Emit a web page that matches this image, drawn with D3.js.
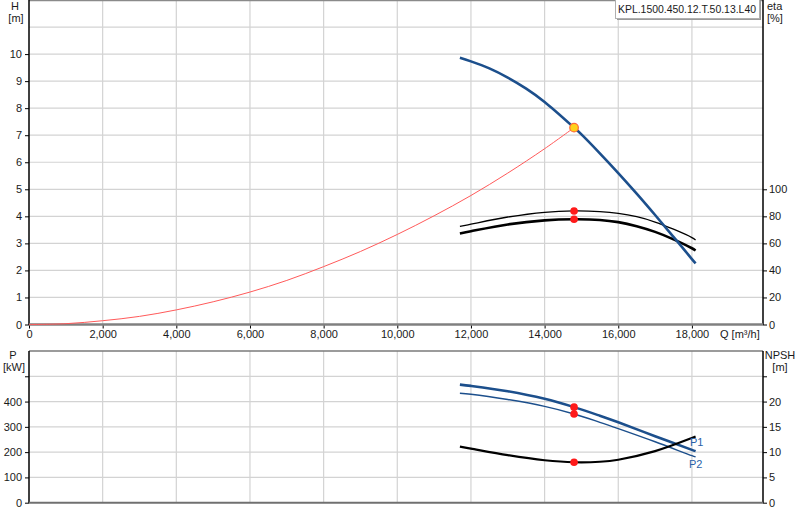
<!DOCTYPE html>
<html><head><meta charset="utf-8">
<script src="https://cdn.jsdelivr.net/npm/d3@7"></script>
<style>
html,body{margin:0;padding:0;background:#fff;}
svg{display:block;font-family:"Liberation Sans",Arial,sans-serif;}
</style></head>
<body><svg id="c" width="800" height="520"></svg>
<script>
// ---- data ----
const qTicks = [0,2000,4000,6000,8000,10000,12000,14000,16000,18000];
const hTicks = [0,1,2,3,4,5,6,7,8,9,10];
const etaTicks = [0,20,40,60,80,100];
const pTicks = [0,100,200,300,400];
const npshTicks = [0,5,10,15,20];

const hQ   = [11700,12000,12500,13000,13500,14000,14800,15000,15500,16000,16500,17000,17500,18000,18100];
const hVal = [9.86, 9.73, 9.47, 9.13, 8.72, 8.23, 7.28, 7.03, 6.33, 5.60, 4.84, 4.05, 3.24, 2.42, 2.26];

const sysQ = [0,1000,2000,3000,4000,5000,6000,7000,8000,9000,10000,11000,12000,13000,14000,14800];
const sysH = [0,0.03,0.14,0.30,0.54,0.84,1.20,1.63,2.14,2.70,3.33,4.02,4.77,5.60,6.50,7.28];

const etaQ = [11700,12000,13000,14000,14800,15500,16000,16500,17000,17500,18000,18100];
const eta1 = [72.5, 74.2, 79.5, 83.0, 84.0, 83.5, 82.2, 79.7, 75.8, 70.5, 64.3, 62.5];
const eta2 = [67.3, 69.0, 74.0, 77.0, 77.8, 77.3, 75.7, 72.7, 68.5, 63.0, 56.4, 54.7];

const pQ   = [11700,12000,13000,14000,14800,15500,16000,17000,18000,18100];
const p1   = [467, 462, 441, 411, 378, 344, 318, 263, 209, 204];
const p2   = [433, 429, 408, 381, 351, 318, 293, 241, 186, 181];
const npsh = [11.1, 10.7, 9.4, 8.4, 8.0, 8.1, 8.5, 10.2, 12.8, 13.1];

const dutyQ = 14800, dutyH = 7.28;
const dutyEta = [84.0, 77.8];
const dutyP = [378, 351];
const dutyNpsh = 8.0;

const title = "KPL.1500.450.12.T.50.13.L40";

// ---- layout ----
const L = 29, R = 763;
const svg = d3.select("#c");
const x = d3.scaleLinear().domain([0,19930]).range([L,R]);
const yH = d3.scaleLinear().domain([0,12]).range([324.5,0]);
const yE = d3.scaleLinear().domain([0,240]).range([324.5,0]);
const yP = d3.scaleLinear().domain([0,600]).range([502.7,351]);
const yN = d3.scaleLinear().domain([0,30]).range([502.7,351]);

const grid = "#d3d3d3";
const blue = "#1c4f8c";
const font = 11;

function gridLines(y0, y1, yScale, yVals){
  const g = svg.append("g");
  g.selectAll("line.v").data(qTicks.slice(1)).enter().append("line")
    .attr("x1",d=>x(d)).attr("x2",d=>x(d)).attr("y1",y0).attr("y2",y1)
    .attr("stroke",grid).attr("stroke-width",1.2);
  g.selectAll("line.h").data(yVals).enter().append("line")
    .attr("x1",L).attr("x2",R).attr("y1",d=>yScale(d)).attr("y2",d=>yScale(d))
    .attr("stroke",grid).attr("stroke-width",1.2);
}
gridLines(0, 324.5, yH, d3.range(1,12));
gridLines(351, 502.7, yP, [100,200,300,400,500]);

// frame lines
svg.append("line").attr("x1",L).attr("x2",R).attr("y1",0.5).attr("y2",0.5).attr("stroke","#8a8a8a").attr("stroke-width",1.5);
svg.append("line").attr("x1",L).attr("x2",R).attr("y1",351).attr("y2",351).attr("stroke","#7a7a7a").attr("stroke-width",1.5);

// ---- axes (top) ----
const axisStyle = g => {
  g.selectAll("text").attr("font-size",font).attr("fill","#1a1a1a").attr("font-family","Liberation Sans, Arial, sans-serif");
  g.selectAll(".tick line").attr("stroke","#000");
};
svg.append("g").attr("transform",`translate(${L},0)`)
  .call(d3.axisLeft(yH).tickValues(hTicks).tickSize(4).tickPadding(3).tickFormat(d3.format("d")))
  .call(g=>g.select(".domain").remove()).call(axisStyle);
svg.append("line").attr("x1",L).attr("x2",L).attr("y1",0).attr("y2",325).attr("stroke","#000").attr("stroke-width",1.5);

svg.append("g").attr("transform",`translate(${R},0)`)
  .call(d3.axisRight(yE).tickValues(etaTicks).tickSize(4).tickPadding(2).tickFormat(d3.format("d")))
  .call(g=>g.select(".domain").remove()).call(axisStyle);
svg.append("line").attr("x1",R).attr("x2",R).attr("y1",0).attr("y2",325).attr("stroke","#000").attr("stroke-width",1.5);

svg.append("g").attr("transform",`translate(0,324.5)`)
  .call(d3.axisBottom(x).tickValues(qTicks).tickSize(4).tickPadding(2).tickFormat(d3.format(",")))
  .call(g=>g.select(".domain").remove()).call(axisStyle);
svg.append("line").attr("x1",L).attr("x2",R).attr("y1",324.5).attr("y2",324.5).attr("stroke","#808080").attr("stroke-width",2.5);

// ---- axes (bottom) ----
svg.append("g").attr("transform",`translate(${L},0)`)
  .call(d3.axisLeft(yP).tickValues(pTicks.concat([500])).tickSize(4).tickPadding(3).tickFormat(d=>d===500?"":d3.format("d")(d)))
  .call(g=>g.select(".domain").remove()).call(axisStyle);
svg.append("line").attr("x1",L).attr("x2",L).attr("y1",351).attr("y2",503).attr("stroke","#000").attr("stroke-width",1.5);
svg.append("g").attr("transform",`translate(${R},0)`)
  .call(d3.axisRight(yN).tickValues(npshTicks.concat([25])).tickSize(4).tickPadding(2).tickFormat(d=>d===25?"":d3.format("d")(d)))
  .call(g=>g.select(".domain").remove()).call(axisStyle);
svg.append("line").attr("x1",R).attr("x2",R).attr("y1",351).attr("y2",503).attr("stroke","#000").attr("stroke-width",1.5);
svg.append("line").attr("x1",L).attr("x2",R).attr("y1",502.7).attr("y2",502.7).attr("stroke","#707070").attr("stroke-width",2);

// ---- axis titles ----
function txt(s, tx, ty, anchor, col){
  return svg.append("text").attr("x",tx).attr("y",ty).attr("text-anchor",anchor||"middle")
    .attr("font-size",font).attr("fill",col||"#1a1a1a").text(s);
}
txt("H",15,10); txt("[m]",16,22);
txt("eta",767,10,"start"); txt("[%]",767,22,"start");
txt("P",13,359); txt("[kW]",14,371);
txt("NPSH",780,359); txt("[m]",780,371);
txt("Q [m³/h]",720,338,"start");

// ---- title box ----
svg.append("rect").attr("x",617).attr("y",1).attr("width",144).attr("height",19).attr("fill","#9a9a9a");
svg.append("rect").attr("x",615.5).attr("y",-0.5).attr("width",144).attr("height",19).attr("fill","#fff").attr("stroke","#b0b0b0");
txt(title,618,13,"start").attr("textLength",138).attr("lengthAdjust","spacingAndGlyphs");

// ---- curves ----
const line = (xs, ys, yS) => d3.line().curve(d3.curveCatmullRom.alpha(0.5))
  .x((d,i)=>x(xs[i])).y(d=>yS(d))(ys);

svg.append("path").attr("d",line(sysQ,sysH,yH)).attr("fill","none").attr("stroke","#ff5a5a").attr("stroke-width",1);
svg.append("path").attr("d",line(etaQ,eta1,yE)).attr("fill","none").attr("stroke","#000").attr("stroke-width",1.3);
svg.append("path").attr("d",line(etaQ,eta2,yE)).attr("fill","none").attr("stroke","#000").attr("stroke-width",2.6);
svg.append("path").attr("d",line(hQ,hVal,yH)).attr("fill","none").attr("stroke",blue).attr("stroke-width",2.6);

svg.append("path").attr("d",line(pQ,p1,yP)).attr("fill","none").attr("stroke",blue).attr("stroke-width",2.6);
svg.append("path").attr("d",line(pQ,p2,yP)).attr("fill","none").attr("stroke",blue).attr("stroke-width",1.4);
svg.append("path").attr("d",line(pQ,npsh,yN)).attr("fill","none").attr("stroke","#000").attr("stroke-width",2.2);

// labels P1/P2
txt("P1",690,446,"start","#2a62a8");
txt("P2",689,468,"start","#2a62a8");

// ---- duty points ----
const dot = (cx, cy) => svg.append("circle").attr("cx",cx).attr("cy",cy).attr("r",3.8).attr("fill","#ff1a1a");
dutyEta.forEach(v=>dot(x(dutyQ), yE(v)));
dutyP.forEach(v=>dot(x(dutyQ), yP(v)));
dot(x(dutyQ), yN(dutyNpsh));
svg.append("circle").attr("cx",x(dutyQ)).attr("cy",yH(dutyH)).attr("r",4.3)
  .attr("fill","#ffd21a").attr("stroke","#ff6a3a").attr("stroke-width",1.2);
</script></body></html>
